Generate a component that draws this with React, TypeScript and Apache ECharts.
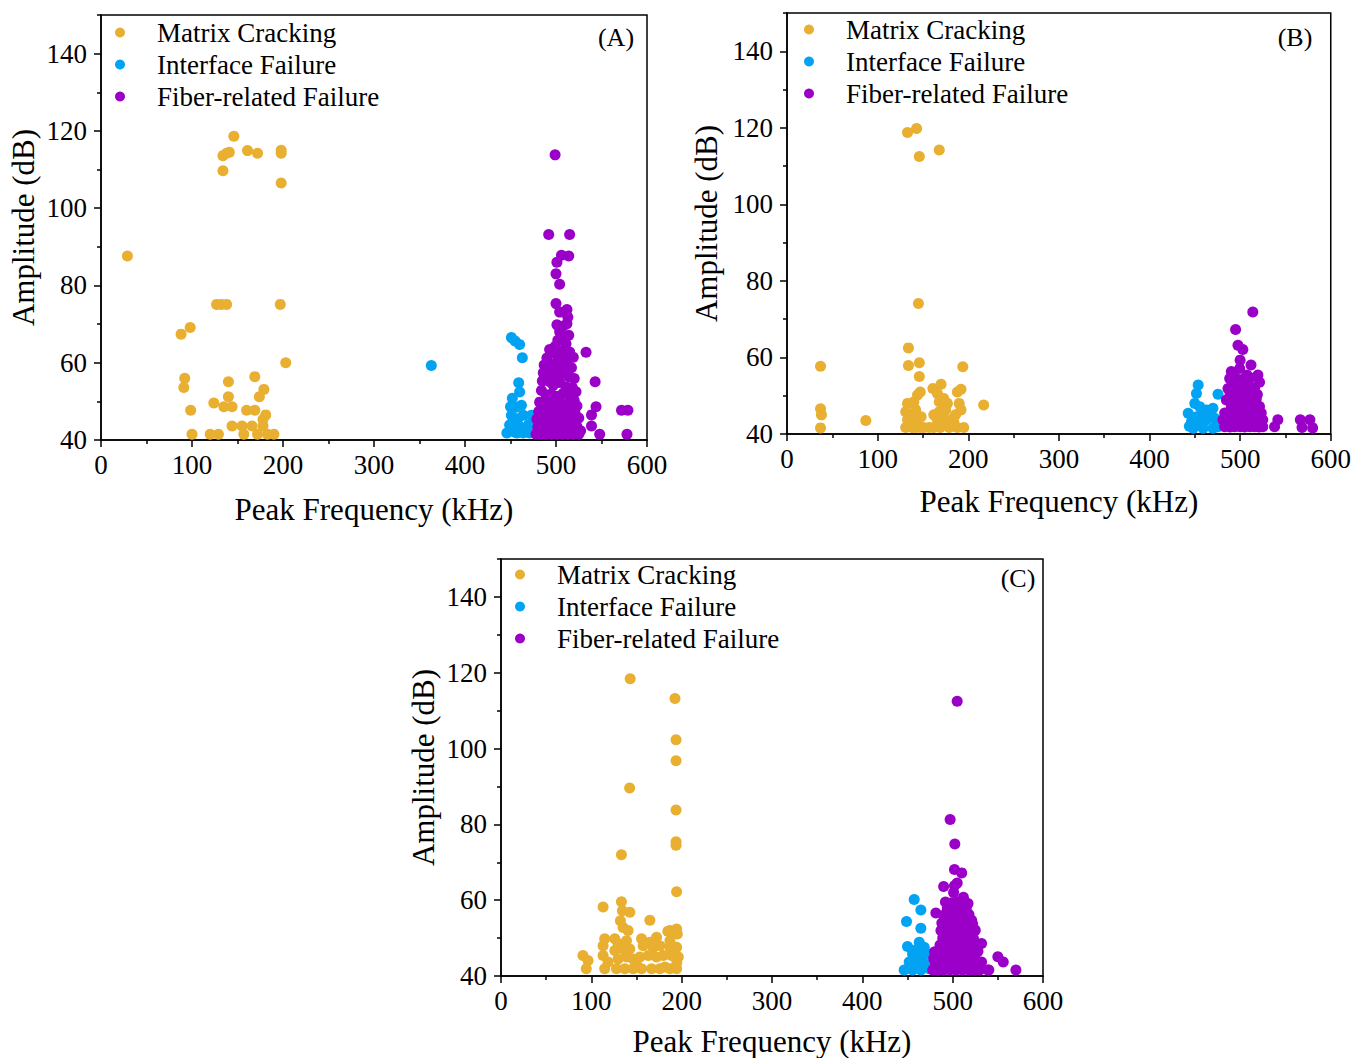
import React, { useEffect, useRef } from "react";
import * as echarts from "echarts";

const seriesNames = ["Matrix Cracking", "Interface Failure", "Fiber-related Failure"];
const panelLabels = ["(A)", "(B)", "(C)"];
const xTitle = "Peak Frequency (kHz)";
const yTitle = "Amplitude (dB)";
const yMajor = [40, 60, 80, 100, 120, 140];
const yMinor = [50, 70, 90, 110, 130, 150];

// Panel A
const aMatrix = [
  [29, 87.6], [146, 118.6], [134, 113.6], [138, 114.2], [141, 114.5], [161, 114.9], [172, 114.2],
  [198, 115], [198, 114.2], [134, 109.7], [198, 106.5], [127, 75.1], [132, 75.1], [138, 75.1],
  [197, 75.1], [88, 67.4], [98, 69.1], [203, 60], [92, 56], [91, 53.6], [140, 55.1], [169, 56.4],
  [179, 53.1], [140, 51.2], [174, 51.2], [124, 49.6], [135, 48.6], [144, 48.6], [98.5, 47.7],
  [160, 47.7], [169, 47.7], [181, 46.5], [144, 43.6], [155, 43.6], [166, 43.6], [178, 43.6],
  [178, 45.3], [100, 41.5], [120, 41.5], [129, 41.5], [157, 41.5], [172, 41.5], [183, 41.5], [190, 41.5],
];
const aInterface = [
  [363, 59.3], [451, 66.5], [455, 65.6], [460, 64.7], [463, 61.3], [459, 54.8], [460, 52.4],
  [452, 50.8], [450, 48.6], [451, 46.4], [449, 43.9], [446, 41.8], [455, 42], [460, 43.5],
  [464, 46.4], [470, 44], [473, 46.4], [471, 41.8], [464, 41.8], [457, 41.8], [452, 44.5],
  [456, 48.5], [462, 49], [467, 42.5], [475, 42.5], [458, 45.5],
];
const aFiber = [
  [499, 113.8], [492, 93.2], [515, 93.2], [506, 87.8], [514, 87.6], [501, 86], [500, 83],
  [504, 80.3], [500, 75.3], [512, 73.8], [504, 73.1], [513, 71.8], [512, 70.1], [533, 62.7],
  [543, 55.1], [544, 48.6], [539, 46.5], [539, 43.6], [548, 41.5], [572, 47.7], [579, 47.7], [578, 41.5],
  [504, 68], [514, 67.1], [502, 65.8], [508, 69.5], [501, 69.8], [506, 66.4], [511, 64.9], [499, 64.2],
  [493, 63.4], [497, 62.5], [504, 63.1], [509, 62.2], [515, 62.8], [519, 61.4], [490, 61.2], [502, 60.6],
  [512, 60.1], [487, 59.4], [494, 59.7], [498, 58.9], [506, 59], [517, 58.7], [486, 57.4], [491, 57.2],
  [500, 56.8], [509, 57.3], [514, 56.4], [520, 55.9], [485, 55.3], [493, 55.1], [497, 54.2], [504, 54.9],
  [511, 53.8], [518, 53.6], [522, 52.5], [484, 52.8], [489, 51.7], [495, 51.9], [502, 51.3], [508, 52.1],
  [515, 51.4], [520, 50.2], [482, 49.8], [488, 49.4], [494, 49.9], [499, 48.7], [506, 49.6], [512, 49.1],
  [518, 48.4], [523, 48.8], [481, 47.4], [486, 47.1], [492, 47.8], [497, 46.3], [504, 47.2], [510, 46.8],
  [516, 46.4], [521, 46.9], [525, 45.7], [479, 45.4], [484, 44.9], [490, 45.3], [496, 44.6], [502, 45.1],
  [508, 44.4], [514, 45], [520, 44.2], [480, 43.3], [486, 43.1], [493, 43.6], [499, 42.9], [505, 43.4],
  [511, 42.8], [517, 43.2], [523, 43.5], [527, 42.4], [478, 41.5], [483, 41.5], [489, 41.5], [495, 41.5],
  [501, 41.5], [507, 41.5], [513, 41.5], [519, 41.5], [525, 41.5],
];

// Panel B
const bMatrix = [
  [133, 118.8], [143, 119.8], [146, 112.5], [168, 114.2], [145, 74.1], [134, 62.5], [37, 57.7],
  [134, 57.9], [146, 58.6], [194, 57.6], [146, 55], [147, 51], [144, 50.2], [161, 51.9], [170, 53],
  [188, 51], [192, 51.7], [217, 47.6], [37, 46.6], [38, 45], [37, 41.6], [87, 43.5],
  [133, 48], [131, 45.8], [133, 43.7], [131, 41.7], [140, 48.4], [142, 46.3], [144, 43.7], [142, 41.7],
  [138, 41.7], [147, 41.7], [151, 41.7], [138, 45], [166, 50.6], [168, 48.4], [173, 49.3], [177, 48],
  [168, 45.8], [175, 46.3], [166, 43.7], [173, 43.7], [180, 43.7], [162, 41.7], [169, 41.7], [179, 41.7],
  [188, 41.7], [195, 41.7], [190, 48], [192, 46.3], [186, 45], [184, 43.2], [157, 41.7], [162, 45], [148, 44.5],
];
const bInterface = [
  [453.7, 52.8], [451.8, 50.6], [475.6, 50.4], [450, 48], [442.7, 45.4], [455.5, 47.1], [462.8, 46.3],
  [470, 46.7], [466.5, 44.5], [446.3, 43.2], [455.5, 42.8], [462.8, 43.7], [472, 44.1], [448.2, 41.5],
  [459.2, 41.5], [470, 41.5], [475.6, 41.9], [444, 42], [452, 44.5], [458, 45],
];
const bFiber = [
  [514, 71.9], [495, 67.3], [497.6, 63.2], [503, 62.1], [500, 59.3], [512, 58], [490.3, 56.3],
  [499.5, 57.1], [519.6, 55.4], [507.5, 55.4], [486.6, 51.9], [541.6, 43.7], [538, 41.9],
  [566.4, 43.7], [577, 43.7], [568.3, 41.7], [580, 41.6],
  [488.5, 54.5], [495, 54.6], [503, 54.3], [511, 54.7], [494, 53.4], [506, 53.6], [521.4, 53.5],
  [492, 52.3], [500, 52.2], [510.4, 52.4], [516, 52.1], [489, 50.5], [497, 50.6], [505, 50.4],
  [513, 50.6], [519, 50.3], [484.8, 48.9], [491, 48.8], [498, 49], [508.6, 48.9], [517.8, 49.1],
  [490.3, 47.1], [499.5, 47.2], [506, 47], [514, 47.1], [521.4, 47.2], [483, 45.5], [489, 45.6],
  [496, 45.4], [503, 45.5], [510, 45.6], [517, 45.4], [523.3, 45.5], [481, 43.7], [487, 43.8],
  [492, 43.6], [499, 43.7], [505, 43.8], [512, 43.6], [518, 43.7], [525, 43.7], [483, 41.9],
  [489, 41.8], [494, 41.9], [500, 41.9], [505, 41.8], [511, 41.9], [516, 41.9], [521, 41.8], [525, 41.9],
];

// Panel C
const cMatrix = [
  [143, 118.4], [192.6, 113.2], [193.8, 102.3], [193.8, 96.8], [142.4, 89.6], [193.8, 83.8],
  [193.8, 75.4], [193.8, 74.5], [133.3, 72], [194.4, 62.2], [113, 58.2], [133.3, 59.6], [134.4, 57.2],
  [142.6, 56.8], [132.2, 54.6], [164.8, 54.7], [135.2, 52.8], [140.7, 52], [187, 52], [194.4, 52.4],
  [195.2, 51.1], [114.8, 49.8], [113, 48], [113, 45.4], [118.5, 43.7], [114.8, 41.9], [90.7, 45.4],
  [96.3, 44.1], [94.4, 41.9], [126, 49.8], [129.6, 48.5], [138.9, 49.3], [126, 46.7], [135.2, 47.1],
  [142.6, 47.1], [129.6, 44.5], [138.9, 45], [146.3, 44.5], [127.8, 41.9], [137, 41.9], [146.3, 41.9],
  [155.6, 49.8], [164.8, 48.9], [172.2, 50.2], [157.4, 48], [168.5, 47.6], [175.9, 48], [153.7, 45],
  [163, 45.4], [172.2, 45], [179.6, 45.4], [155.6, 41.9], [166.7, 41.9], [175.9, 41.9], [181.5, 42.4],
  [187, 47.6], [194.4, 47.6], [188.9, 45.4], [187, 41.9], [194.4, 41.9], [196.3, 45], [187, 49.3],
  [184.7, 51.8], [194.6, 43.5], [150, 43],
];
const cInterface = [
  [457.4, 60.2], [464.8, 57.4], [448.9, 54.4], [464.8, 52.6], [450, 47.8], [463, 48.9], [468.5, 47.6],
  [455.6, 45.8], [464.8, 45], [472.2, 45.8], [451.9, 43.7], [459.3, 43.2], [466.7, 43.7], [446.3, 41.6],
  [455.6, 41.6], [464.8, 41.6], [474, 41.9], [470, 43], [460, 47],
];
const cFiber = [
  [505, 112.5], [497.2, 81.3], [502.4, 74.8], [502, 68.1], [510, 67.2], [490, 63.6], [502, 63.8],
  [501, 62], [481.4, 56.6], [511.9, 60.8], [521, 54.7], [532, 48.6], [550, 45.1], [556, 43.7],
  [532, 43.7], [540, 41.6], [570, 41.6], [538.9, 41.6], [505, 64.5],
  [492, 59.5], [499, 59.3], [506, 59.6], [513, 59.4], [517, 59.1], [494, 57.8], [501, 57.7], [508, 57.9],
  [515, 57.6], [490, 56], [497, 56.1], [504, 55.9], [511, 56], [518, 56.2], [488, 54], [495, 54.1],
  [502, 53.9], [509, 54], [516, 54.2], [522, 53.8], [487, 52], [493, 52.1], [500, 51.9], [507, 52],
  [514, 52.2], [520, 51.9], [525, 52.1], [489, 50], [496, 50.1], [503, 49.9], [510, 50], [517, 50.2],
  [523, 49.9], [486, 48.2], [492, 48.3], [499, 48.1], [506, 48.2], [513, 48.3], [520, 48.1], [526, 48.2],
  [480, 46.4], [487, 46.5], [494, 46.3], [501, 46.4], [508, 46.5], [515, 46.3], [522, 46.4], [528, 46.5],
  [479, 44.6], [485, 44.7], [492, 44.5], [499, 44.6], [505, 44.7], [512, 44.5], [519, 44.6], [525, 44.6],
  [481, 43], [488, 43.1], [495, 42.9], [502, 43], [509, 43.1], [516, 42.9], [523, 43], [529, 43.1],
  [478, 41.6], [484, 41.6], [490, 41.6], [497, 41.6], [504, 41.6], [511, 41.6], [518, 41.6], [524, 41.6], [530, 41.6],
];

const panels = [
  { matrix: aMatrix, interface: aInterface, fiber: aFiber },
  { matrix: bMatrix, interface: bInterface, fiber: bFiber },
  { matrix: cMatrix, interface: cInterface, fiber: cFiber },
];

const colors = ["#E8AF30", "#02A3F2", "#9B00C9"];
const FONT = "Liberation Serif";

export default function App() {
  const ref = useRef<HTMLDivElement>(null);
  useEffect(() => {
    if (!ref.current) return;
    const chart = echarts.init(ref.current, null, { renderer: "svg" });
    const grids = [
      { left: 101, top: 15, width: 546, height: 425 },
      { left: 787, top: 13, width: 544, height: 421 },
      { left: 501, top: 559, width: 542, height: 420 },
    ];
    const xGaps = [54, 52, 50];
    const yGaps = [62, 65, 62];
    const legendPos = [
      { left: 115, top: 19 },
      { left: 804, top: 16 },
      { left: 515, top: 561 },
    ];
    const labelPos = [
      [616, 37],
      [1295, 37],
      [1018, 578],
    ];
    const axisLine = { show: true, lineStyle: { color: "#000", width: 1.5 } };
    const xAxis = grids.map((_, i) => ({
      type: "value",
      gridIndex: i,
      min: 0,
      max: 600,
      interval: 100,
      axisLine,
      axisTick: { show: true, inside: false, length: 7, lineStyle: { color: "#000", width: 1.5 } },
      minorTick: { show: true, splitNumber: 2, length: 4, lineStyle: { color: "#000", width: 1.5 } },
      splitLine: { show: false },
      axisLabel: { fontFamily: FONT, fontSize: 27, color: "#000", margin: 11 },
      name: xTitle,
      nameLocation: "middle",
      nameGap: xGaps[i],
      nameTextStyle: { fontFamily: FONT, fontSize: 31, color: "#000" },
    }));
    const yMain = grids.map((_, i) => ({
      type: "value",
      gridIndex: i,
      position: "left",
      min: 40,
      max: 150,
      interval: 20,
      axisLine,
      axisTick: { show: true, length: 7, customValues: yMajor, lineStyle: { color: "#000", width: 1.5 } },
      axisLabel: { fontFamily: FONT, fontSize: 27, color: "#000", margin: 14, customValues: yMajor },
      splitLine: { show: false },
      name: yTitle,
      nameLocation: "middle",
      nameGap: yGaps[i],
      nameTextStyle: { fontFamily: FONT, fontSize: 31, color: "#000" },
    }));
    const yMinorAxes = grids.map((_, i) => ({
      type: "value",
      gridIndex: i,
      position: "left",
      offset: 0,
      min: 40,
      max: 150,
      interval: 10,
      axisLine: { show: false },
      axisTick: { show: true, length: 4, customValues: yMinor, lineStyle: { color: "#000", width: 1.5 } },
      axisLabel: { show: false },
      splitLine: { show: false },
    }));
    const series: any[] = [];
    panels.forEach((p, i) => {
      [p.matrix, p.interface, p.fiber].forEach((d, k) => {
        series.push({
          type: "scatter",
          name: seriesNames[k],
          xAxisIndex: i,
          yAxisIndex: i,
          data: d,
          symbolSize: 11,
          itemStyle: { color: colors[k], opacity: 1 },
        });
      });
    });
    chart.setOption({
      animation: false,
      color: colors,
      grid: grids.map((g) => ({ ...g, show: true, borderColor: "#000", borderWidth: 1.5, backgroundColor: "transparent" })),
      xAxis,
      yAxis: [...yMain, ...yMinorAxes],
      legend: legendPos.map((pos) => ({
        ...pos,
        orient: "vertical",
        icon: "circle",
        itemWidth: 10,
        itemHeight: 10,
        itemGap: 5,
        padding: 0,
        selectedMode: false,
        data: seriesNames,
        textStyle: { fontFamily: FONT, fontSize: 27, color: "#000", lineHeight: 25, padding: [0, 0, 0, 27] },
      })),
      graphic: labelPos.map(([x, y], i) => ({
        type: "text",
        x,
        y,
        style: { text: panelLabels[i], font: `26px "${FONT}"`, fill: "#000", textAlign: "center", textVerticalAlign: "middle" },
      })),
      series,
    });
    return () => chart.dispose();
  }, []);
  return <div ref={ref} style={{ position: "absolute", left: 0, top: 0, width: 1354, height: 1058 }} />;
}
